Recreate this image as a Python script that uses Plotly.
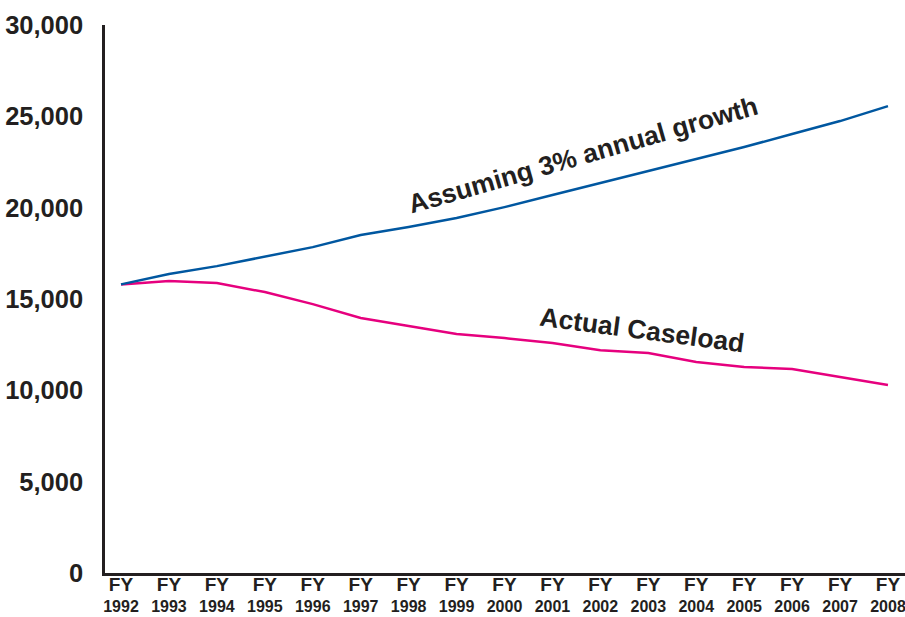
import plotly.graph_objects as go

years = list(range(1992, 2009))
tick_labels = [f"<span style='font-size:19px'>FY</span><br>{y}" for y in years]
growth_3pct = [15800, 16370, 16800, 17300, 17840, 18500, 18940, 19430, 20030,
               20690, 21350, 22000, 22660, 23320, 24030, 24740, 25560]
actual_caseload = [15800, 15980, 15870, 15380, 14720, 13960, 13520, 13080, 12860,
                   12590, 12200, 12040, 11550, 11280, 11170, 10730, 10290]
y_ticks = [0, 5000, 10000, 15000, 20000, 25000, 30000]
y_tick_labels = ["0", "5,000", "10,000", "15,000", "20,000", "25,000", "30,000"]

TXT = "#231f20"
fig = go.Figure()
fig.add_trace(go.Scatter(x=years, y=actual_caseload, mode="lines",
                         line=dict(color="#e6007e", width=2.5), name="Actual Caseload"))
fig.add_trace(go.Scatter(x=years, y=growth_3pct, mode="lines",
                         line=dict(color="#0057a0", width=2.5), name="Assuming 3% annual growth"))

fig.add_annotation(x=2001.64, y=22880, text="<b>Assuming 3% annual growth</b>",
                   textangle=-16, showarrow=False,
                   font=dict(family="Liberation Sans, Arial", size=26.5, color=TXT))
fig.add_annotation(x=2002.87, y=13300, text="<b>Actual Caseload</b>",
                   textangle=7.5, showarrow=False,
                   font=dict(family="Liberation Sans, Arial", size=26.5, color=TXT))

fig.update_layout(
    width=905, height=617,
    margin=dict(l=105, r=0, t=25, b=44),
    paper_bgcolor="white", plot_bgcolor="white",
    showlegend=False,
    xaxis=dict(range=[1991.666, 2008.355], tickvals=years,
               ticktext=[f"<b>{t}</b>" for t in tick_labels],
               automargin=False, ticklabeloverflow="allow", ticklabelstandoff=-4,
               showgrid=False, zeroline=False, showline=True, linecolor=TXT, linewidth=2.5,
               ticks="", tickfont=dict(family="Liberation Sans, Arial", size=16, color=TXT),
               tickangle=0),
    yaxis=dict(range=[0, 30000], tickvals=y_ticks, ticktext=[f"<b>{t}</b>" for t in y_tick_labels],
               automargin=False, ticklabeloverflow="allow",
               showgrid=False, zeroline=False, showline=True, linecolor=TXT, linewidth=2.5,
               ticks="", ticklabelstandoff=14,
               tickfont=dict(family="Liberation Sans, Arial", size=25.5, color=TXT)),
)
fig.write_html("out.html", config={"displayModeBar": False},
               post_script="document.body.style.margin='0';document.body.style.overflow='hidden';")
